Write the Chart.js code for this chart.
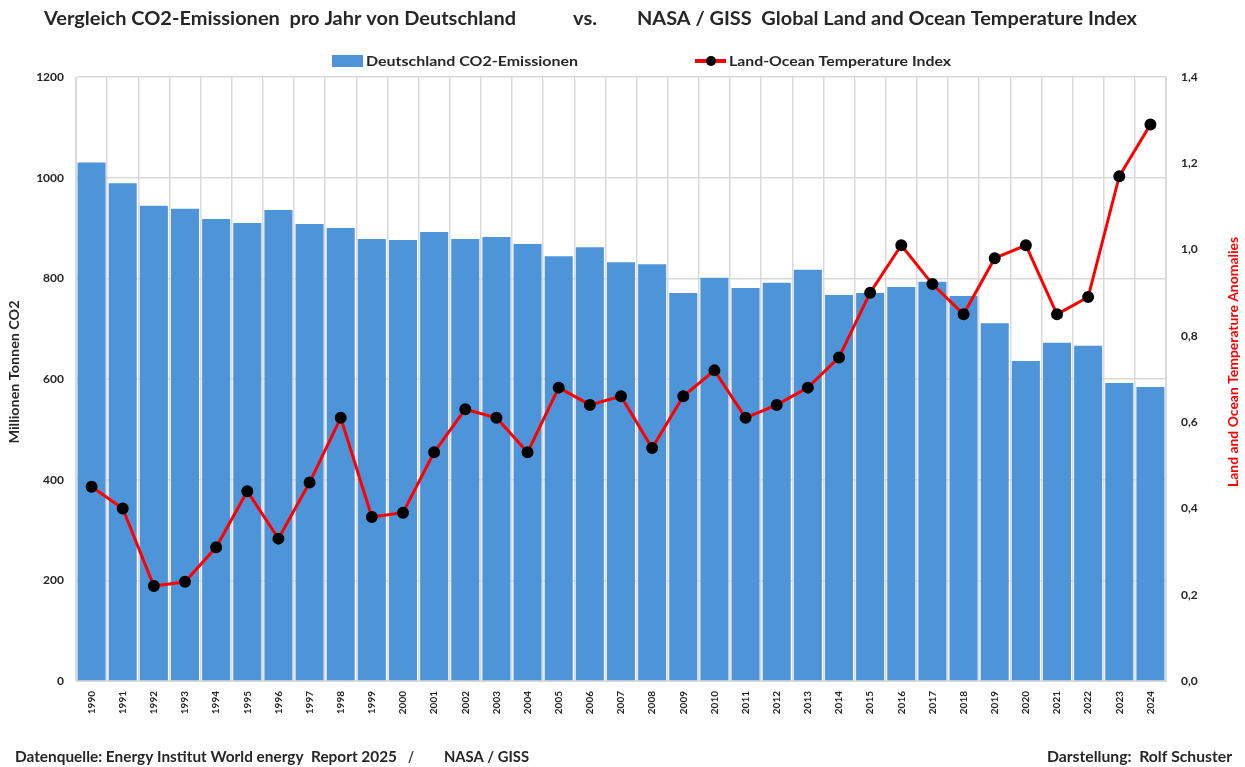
<!DOCTYPE html>
<html>
<head>
<meta charset="utf-8">
<script src="https://cdn.jsdelivr.net/npm/chart.js@4/dist/chart.umd.min.js"></script>
<style>
  html, body { margin: 0; padding: 0; background: #fff; }
  #wrap { width: 1245px; height: 767px; }
</style>
</head>
<body>
<div id="wrap"><canvas id="co2Chart" width="1245" height="767"></canvas></div>
<script>
// Data
const years = ['1990', '1991', '1992', '1993', '1994', '1995', '1996', '1997', '1998', '1999',
    '2000', '2001', '2002', '2003', '2004', '2005', '2006', '2007', '2008', '2009',
    '2010', '2011', '2012', '2013', '2014', '2015', '2016', '2017', '2018', '2019',
    '2020', '2021', '2022', '2023', '2024'];
const co2Emissions = [1030, 989, 944, 938, 918, 910, 936, 908, 900, 878,
    876, 892, 878, 882, 868, 844, 862, 832, 828, 771,
    801, 781, 791, 817, 767, 771, 783, 793, 765, 711,
    636, 672, 666, 592, 584];
const tempIndex = [0.45, 0.40, 0.22, 0.23, 0.31, 0.44, 0.33, 0.46, 0.61, 0.38,
    0.39, 0.53, 0.63, 0.61, 0.53, 0.68, 0.64, 0.66, 0.54, 0.66,
    0.72, 0.61, 0.64, 0.68, 0.75, 0.90, 1.01, 0.92, 0.85, 0.98,
    1.01, 0.85, 0.89, 1.17, 1.29];
const co2Ticks = { min: 0, max: 1200, step: 200 };
const tempTicks = { min: 0, max: 1.4, step: 0.2 };

const FONT = 'Lato, "Open Sans", sans-serif';
const BAR_COLOR = '#4E94D8';
const LINE_COLOR = '#FF0000';
const TEXT_COLOR = '#262626';

// draw text squeezed/stretched to a given width (the original uses a narrow font)
function fitText(ctx, text, x, y, width) {
    const w = ctx.measureText(text).width;
    ctx.save();
    ctx.translate(x, y);
    ctx.scale(width / w, 1);
    ctx.textAlign = 'left';
    ctx.fillText(text, 0, 0);
    ctx.restore();
}

// rotated text reading upwards, centred on cx/cy, spanning len pixels
function upText(ctx, text, cx, cy, len) {
    ctx.save();
    ctx.translate(cx, cy);
    ctx.rotate(-Math.PI / 2);
    fitText(ctx, text, -len / 2, 0, len);
    ctx.restore();
}

// Title, legend, footer and axis titles
const decorations = {
    id: 'decorations',
    beforeDraw(chart) {
        const ctx = chart.ctx;
        ctx.save();
        ctx.fillStyle = '#fff';
        ctx.fillRect(0, 0, chart.width, chart.height);
        ctx.restore();
    },
    afterDraw(chart) {
        const ctx = chart.ctx;
        ctx.save();
        ctx.fillStyle = TEXT_COLOR;
        ctx.textBaseline = 'middle';

        // title
        ctx.font = 'bold 19px ' + FONT;
        fitText(ctx, 'Vergleich CO2-Emissionen  pro Jahr von Deutschland', 44, 19, 472);
        fitText(ctx, 'vs.', 573, 19, 24);
        fitText(ctx, 'NASA / GISS  Global Land and Ocean Temperature Index', 637, 19, 500);

        // legend
        ctx.font = 'bold 14px ' + FONT;
        ctx.fillStyle = BAR_COLOR;
        ctx.fillRect(332, 55, 31, 12);
        ctx.fillStyle = TEXT_COLOR;
        fitText(ctx, chart.data.datasets[0].label, 366, 61, 212);

        ctx.strokeStyle = LINE_COLOR;
        ctx.lineWidth = 4;
        ctx.beginPath();
        ctx.moveTo(695, 61);
        ctx.lineTo(726, 61);
        ctx.stroke();
        ctx.fillStyle = '#000';
        ctx.beginPath();
        ctx.arc(711, 61, 5, 0, Math.PI * 2);
        ctx.fill();
        ctx.fillStyle = TEXT_COLOR;
        fitText(ctx, chart.data.datasets[1].label, 729, 61, 222);

        // axis titles
        ctx.font = 'bold 13px ' + FONT;
        upText(ctx, 'Millionen Tonnen CO2', 15, 372, 143);
        ctx.fillStyle = LINE_COLOR;
        upText(ctx, 'Land and Ocean Temperature Anomalies', 1234, 362, 250);

        // footer
        ctx.fillStyle = TEXT_COLOR;
        ctx.font = 'bold 15px ' + FONT;
        fitText(ctx, 'Datenquelle: Energy Institut World energy  Report 2025', 15, 757, 382);
        fitText(ctx, '/', 408, 757, 6);
        fitText(ctx, 'NASA / GISS', 444, 757, 85);
        fitText(ctx, 'Darstellung:  Rolf Schuster', 1047, 757, 185);
        ctx.restore();
    }
};

new Chart(document.getElementById('co2Chart'), {
    data: {
        labels: years,
        datasets: [
            {
                type: 'bar',
                label: 'Deutschland CO2-Emissionen',
                data: co2Emissions,
                backgroundColor: BAR_COLOR,
                borderWidth: 0,
                barPercentage: 1,
                categoryPercentage: 0.9,
                yAxisID: 'y',
                order: 2
            },
            {
                type: 'line',
                label: 'Land-Ocean Temperature Index',
                data: tempIndex,
                borderColor: LINE_COLOR,
                borderWidth: 3,
                pointBackgroundColor: '#000',
                pointBorderColor: '#000',
                pointRadius: 4.5,
                tension: 0,
                yAxisID: 'y1',
                order: 1
            }
        ]
    },
    options: {
        responsive: false,
        animation: false,
        layout: { padding: { top: 77, left: 0, right: 0, bottom: 0 } },
        plugins: {
            legend: { display: false },
            title: { display: false },
            tooltip: { enabled: false }
        },
        scales: {
            x: {
                offset: true,
                grid: { offset: true, color: '#d9d9d9', lineWidth: 1.5, drawTicks: false },
                border: { color: '#d9d9d9' },
                ticks: {
                    color: TEXT_COLOR,
                    font: { family: FONT, size: 10, weight: 'bold' },
                    minRotation: 90,
                    maxRotation: 90,
                    autoSkip: false,
                    padding: 10
                },
                afterFit(scale) { scale.height = 86; }
            },
            y: {
                position: 'left',
                min: co2Ticks.min,
                max: co2Ticks.max,
                ticks: {
                    stepSize: co2Ticks.step,
                    color: TEXT_COLOR,
                    font: { family: FONT, size: 12, weight: 'bold' },
                    padding: 12,
                    callback: (v) => String(v)
                },
                grid: { color: '#d9d9d9', lineWidth: 1.5, drawTicks: false },
                border: { color: '#d9d9d9' },
                afterFit(scale) { scale.width = 76; }
            },
            y1: {
                position: 'right',
                min: tempTicks.min,
                max: tempTicks.max,
                ticks: {
                    stepSize: tempTicks.step,
                    color: TEXT_COLOR,
                    font: { family: FONT, size: 12, weight: 'bold' },
                    padding: 15,
                    callback: (v) => v.toFixed(1).replace('.', ',')
                },
                grid: { drawOnChartArea: false, drawTicks: false },
                border: { color: '#d9d9d9' },
                afterFit(scale) { scale.width = 79; }
            }
        }
    },
    plugins: [decorations]
});
</script>
</body>
</html>
